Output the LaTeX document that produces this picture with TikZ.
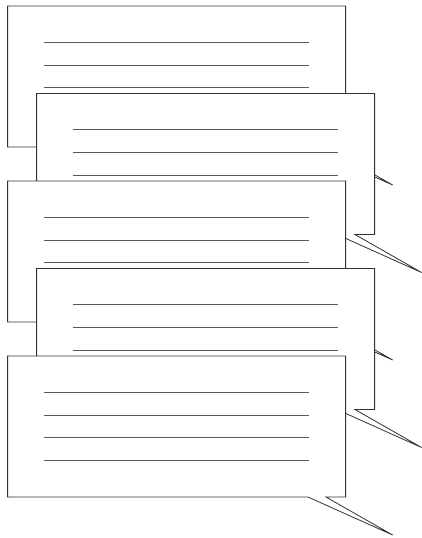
\documentclass[tikz,border=0pt]{standalone}
\usetikzlibrary{shapes.callouts}
\usetikzlibrary{positioning}

%% four placeholder text lines inside a bubble
\newcommand{\bubblelines}[1]{%
  \foreach \k in {0,...,3}
    \draw[textline] ([xshift=36.5pt,yshift={-36.7pt-\k*22.67pt}]#1.north west) -- ++(265,0);}

\begin{document}
\begin{tikzpicture}
[x=1pt,y=1pt,on grid,%
  bubble/.style={rectangle callout,draw=black!80,fill=white,line width=0.8pt,
    minimum width=338pt,minimum height=141pt,inner sep=0pt,
    callout absolute pointer={#1},callout pointer width=18pt},
  textline/.style={draw=black!65,line width=0.8pt}]
\useasboundingbox (0,0) rectangle (422,-538);
%% bubbles, each one drawn over the one before
\node[bubble={(392.6,-185)}] (b1) at (176.6,-76.5) {};
\bubblelines{b1}
\node[bubble={(421.6,-272.5)}] (b2) [below right=87.5pt and 29pt of b1] {};
\bubblelines{b2}
\node[bubble={(392.6,-360)}] (b3) [below left=87.5pt and 29pt of b2] {};
\bubblelines{b3}
\node[bubble={(421.6,-447.5)}] (b4) [below right=87.5pt and 29pt of b3] {};
\bubblelines{b4}
\node[bubble={(392.6,-535)}] (b5) [below left=87.5pt and 29pt of b4] {};
\bubblelines{b5}
\end{tikzpicture}
\end{document}
